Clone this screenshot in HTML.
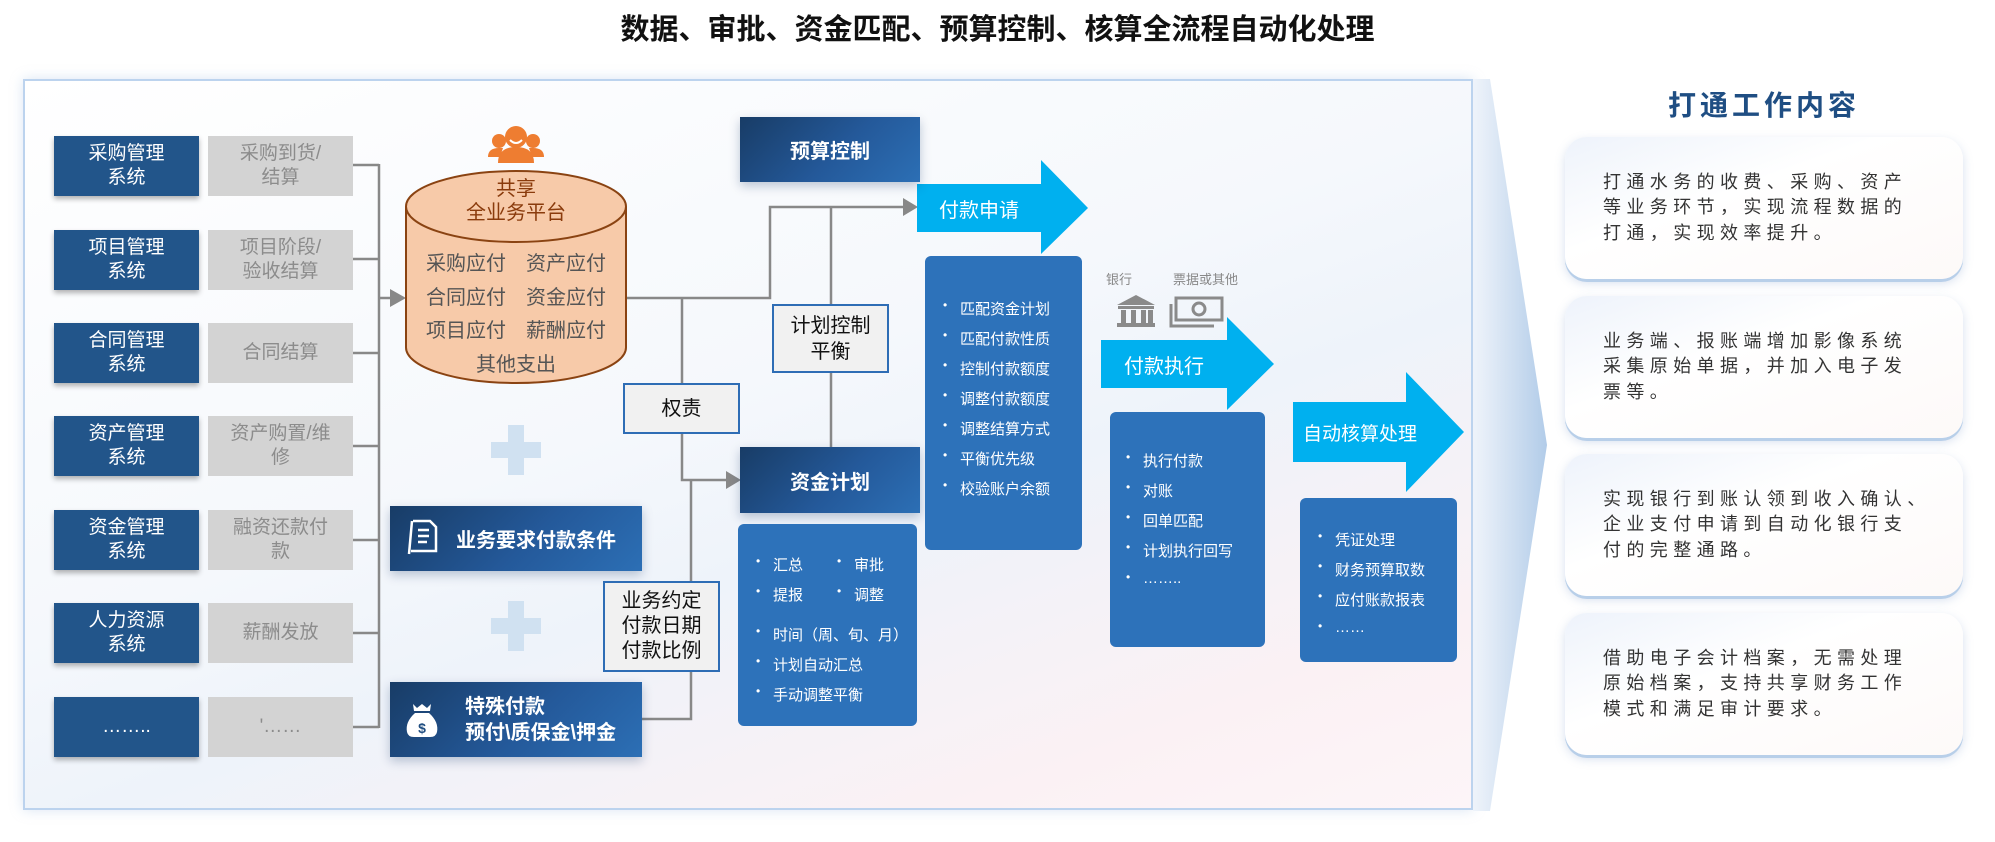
<!DOCTYPE html>
<html><head><meta charset="utf-8">
<style>
*{margin:0;padding:0;box-sizing:border-box}
body{width:1995px;height:842px;background:#fff;position:relative;overflow:hidden;font-family:"Liberation Sans","Noto Sans CJK SC",sans-serif}
.a{position:absolute}
.title{left:0;width:1995px;top:6px;text-align:center;font-size:29px;font-weight:bold;color:#111}
.frame{left:23px;top:79px;width:1450px;height:731px;border:2px solid #bcd3ee;background:linear-gradient(160deg,#ffffff 0%,#f5f8fc 45%,#eef3fa 60%,#fbf1f4 85%,#fdf5f8 100%);box-shadow:0 0 12px rgba(150,180,220,.35)}
.sys{left:54px;width:145px;height:60px;background:#22558a;color:#fff;font-size:19px;line-height:24px;display:flex;align-items:center;justify-content:center;text-align:center;box-shadow:0 3px 5px rgba(0,0,0,.3)}
.gr{left:208px;width:145px;height:60px;background:#d3d3d3;color:#8c8c8c;font-size:19px;line-height:24px;display:flex;align-items:center;justify-content:center;text-align:center}
.dk{background:linear-gradient(135deg,#183c66 0%,#24599a 55%,#2c6fb5 100%);color:#fff;font-weight:bold;display:flex;align-items:center;justify-content:center;box-shadow:0 4px 10px rgba(0,40,90,.25)}
.bx{background:#f1f1f1;border:2px solid #2e6db5;color:#111;font-size:20px;line-height:24px;display:flex;align-items:center;justify-content:center;text-align:center}
.cb{background:#2d72ba;border-radius:6px;color:#fff;font-size:15px}
.li{position:absolute;white-space:nowrap}
.li:before{content:"•";position:absolute;left:-17px;font-size:12px}
.card{left:1565px;width:398px;height:142px;border-radius:22px;background:linear-gradient(160deg,#eef3fb 0%,#ffffff 40%,#fdf9f8 100%);box-shadow:0 3px 0 #b8cfe9,0 4px 10px rgba(120,150,200,.3);padding:0 0 0 38px;font-size:18px;line-height:25.5px;letter-spacing:5.4px;color:#333;display:flex;align-items:center}
.card div{white-space:nowrap}
.plus{width:50px;height:50px}
.plus:before{content:"";position:absolute;left:17px;top:0;width:16px;height:50px;background:#d0e1f1}
.plus:after{content:"";position:absolute;left:0;top:17px;width:50px;height:16px;background:#d0e1f1}
</style></head><body>
<div class="a title">数据、审批、资金匹配、预算控制、核算全流程自动化处理</div>
<div class="a frame"></div>

<svg class="a" style="left:1470px;top:75px" width="90" height="740">
<defs><linearGradient id="cg" x1="0" x2="1"><stop offset="0" stop-color="#eef3fa"/><stop offset="1" stop-color="#a9c6e6"/></linearGradient></defs>
<polygon points="3,4 20,4 77,370 20,736 3,736" fill="url(#cg)" opacity=".9"/>
</svg>

<div class="a sys" style="top:136px">采购管理<br>系统</div>
<div class="a sys" style="top:230px">项目管理<br>系统</div>
<div class="a sys" style="top:323px">合同管理<br>系统</div>
<div class="a sys" style="top:416px">资产管理<br>系统</div>
<div class="a sys" style="top:510px">资金管理<br>系统</div>
<div class="a sys" style="top:603px">人力资源<br>系统</div>
<div class="a sys" style="top:697px">……..</div>
<div class="a gr" style="top:136px">采购到货/<br>结算</div>
<div class="a gr" style="top:230px">项目阶段/<br>验收结算</div>
<div class="a gr" style="top:323px">合同结算</div>
<div class="a gr" style="top:416px">资产购置/维<br>修</div>
<div class="a gr" style="top:510px">融资还款付<br>款</div>
<div class="a gr" style="top:603px">薪酬发放</div>
<div class="a gr" style="top:697px">'……</div>

<svg class="a" style="left:0;top:0" width="1995" height="842">
<g stroke="#888" stroke-width="2.5" fill="none">
<path d="M353 165H379M353 259H379M353 353H379M353 446H379M353 540H379M353 633H379M353 727H379M379 164V728"/>
<path d="M379 298H392"/>
<path d="M626 298H770V207H905"/>
<path d="M831 207V304M831 373V447"/>
<path d="M682 298V480H728"/>
<path d="M691 480V719H642"/>
</g>
<g fill="#888">
<polygon points="390,289 406,298 390,307"/>
<polygon points="903,198 918,207 903,216"/>
<polygon points="726,471 741,480 726,489"/>
</g>
<path d="M406 206.5V347.5A110 35.5 0 0 0 626 347.5V206.5" fill="#f7caa9" stroke="#8a4312" stroke-width="2"/>
<ellipse cx="516" cy="206.5" rx="110" ry="35.5" fill="#f7caa9" stroke="#8a4312" stroke-width="2"/>
<g fill="#ee7d31">
<circle cx="516" cy="137" r="11"/><path d="M498 163q0-16 18-16t18 16z"/>
<circle cx="499" cy="141" r="7"/><path d="M488 157q0-9 11-9l4 0-3 9z"/>
<circle cx="533" cy="141" r="7"/><path d="M544 157q0-9-11-9l-4 0 3 9z"/>
</g>
<path d="M510 140q6 6 12 0" stroke="#fff" stroke-width="2" fill="none"/>
<polygon points="917,184 1041,184 1041,160 1088,208 1041,254 1041,232 917,232" fill="#00b0ef"/>
<polygon points="1101,340 1227,340 1227,317 1274,364 1227,410 1227,388 1101,388" fill="#00b0ef"/>
<polygon points="1293,402 1406,402 1406,372 1464,432 1406,492 1406,462 1293,462" fill="#00b0ef"/>
<g fill="#8a8a8a">
<polygon points="1136,295 1117,305 1155,305"/>
<rect x="1118" y="306" width="36" height="3"/>
<rect x="1121" y="310" width="5" height="13"/><rect x="1131" y="310" width="5" height="13"/><rect x="1141" y="310" width="5" height="13"/><rect x="1148" y="310" width="5" height="13"/>
<rect x="1117" y="323" width="38" height="4"/>
</g>
<g fill="none" stroke="#8a8a8a" stroke-width="3">
<rect x="1176" y="298" width="46" height="22"/>
<path d="M1171 304V326H1214"/>
<circle cx="1199" cy="309" r="6"/>
</g>
</svg>

<div class="a" style="left:406px;top:177px;width:220px;text-align:center;color:#8a3b0c;font-size:20px;line-height:24px">共享<br>全业务平台</div>
<div class="a" style="left:411px;top:248px;width:110px;text-align:center;color:#555;font-size:20px;line-height:33.5px">采购应付<br>合同应付<br>项目应付</div>
<div class="a" style="left:511px;top:248px;width:110px;text-align:center;color:#555;font-size:20px;line-height:33.5px">资产应付<br>资金应付<br>薪酬应付</div>
<div class="a" style="left:406px;top:348px;width:220px;text-align:center;color:#555;font-size:20px">其他支出</div>

<div class="a plus" style="left:491px;top:425px"></div>
<div class="a plus" style="left:491px;top:601px"></div>

<div class="a dk" style="left:390px;top:506px;width:252px;height:65px;font-size:20px;padding-left:40px">业务要求付款条件</div>
<svg class="a" style="left:405px;top:518px" width="34" height="40"><g fill="none" stroke="#fff" stroke-width="2.5"><path d="M8 3H25L31 9V33H6"/><path d="M13 12H24M13 18H24M13 24H22"/><path d="M7 3L4 36"/></g></svg>
<div class="a dk" style="left:390px;top:682px;width:252px;height:75px;font-size:20px;line-height:26px;justify-content:flex-start;padding-left:75px">特殊付款<br>预付\质保金\押金</div>
<svg class="a" style="left:405px;top:702px" width="34" height="36"><g fill="#fff"><path d="M8 2L12 6 17 2 22 6 26 2 25 9H9z"/><path d="M10 11H24Q34 20 32 30Q31 35 25 35H9Q3 35 2 30Q0 20 10 11z"/></g><text x="17" y="31" font-size="14" font-weight="bold" fill="#1f4d80" text-anchor="middle" font-family="Liberation Sans">$</text></svg>

<div class="a bx" style="left:623px;top:383px;width:117px;height:51px">权责</div>
<div class="a bx" style="left:603px;top:581px;width:117px;height:91px;line-height:25px">业务约定<br>付款日期<br>付款比例</div>
<div class="a bx" style="left:772px;top:304px;width:117px;height:69px;line-height:26px">计划控制<br>平衡</div>

<div class="a dk" style="left:740px;top:117px;width:180px;height:65px;font-size:20px">预算控制</div>
<div class="a dk" style="left:740px;top:447px;width:180px;height:66px;font-size:20px">资金计划</div>

<div class="a" style="left:917px;top:194px;width:124px;text-align:center;color:#fff;font-size:20px;white-space:nowrap">付款申请</div>
<div class="a" style="left:1101px;top:350px;width:126px;text-align:center;color:#fff;font-size:20px;white-space:nowrap">付款执行</div>
<div class="a" style="left:1303px;top:419px;color:#fff;font-size:19px;white-space:nowrap">自动核算处理</div>
<div class="a" style="left:1106px;top:269px;color:#888;font-size:13px">银行</div>
<div class="a" style="left:1173px;top:269px;color:#888;font-size:13px">票据或其他</div>

<div class="a cb" style="left:738px;top:524px;width:179px;height:202px">
<div class="li" style="left:35px;top:30px">汇总</div><div class="li" style="left:116px;top:30px">审批</div>
<div class="li" style="left:35px;top:60px">提报</div><div class="li" style="left:116px;top:60px">调整</div>
<div class="li" style="left:35px;top:100px">时间（周、旬、月）</div>
<div class="li" style="left:35px;top:130px">计划自动汇总</div>
<div class="li" style="left:35px;top:160px">手动调整平衡</div>
</div>
<div class="a cb" style="left:925px;top:256px;width:157px;height:294px">
<div class="li" style="left:35px;top:42px">匹配资金计划</div>
<div class="li" style="left:35px;top:72px">匹配付款性质</div>
<div class="li" style="left:35px;top:102px">控制付款额度</div>
<div class="li" style="left:35px;top:132px">调整付款额度</div>
<div class="li" style="left:35px;top:162px">调整结算方式</div>
<div class="li" style="left:35px;top:192px">平衡优先级</div>
<div class="li" style="left:35px;top:222px">校验账户余额</div>
</div>
<div class="a cb" style="left:1110px;top:412px;width:155px;height:235px">
<div class="li" style="left:33px;top:38px">执行付款</div>
<div class="li" style="left:33px;top:68px">对账</div>
<div class="li" style="left:33px;top:98px">回单匹配</div>
<div class="li" style="left:33px;top:128px">计划执行回写</div>
<div class="li" style="left:33px;top:158px">……..</div>
</div>
<div class="a cb" style="left:1300px;top:498px;width:157px;height:164px">
<div class="li" style="left:35px;top:31px">凭证处理</div>
<div class="li" style="left:35px;top:61px">财务预算取数</div>
<div class="li" style="left:35px;top:91px">应付账款报表</div>
<div class="li" style="left:35px;top:121px">……</div>
</div>

<div class="a" style="left:1565px;top:84px;width:398px;text-align:center;color:#1f4e83;font-size:28px;font-weight:bold;letter-spacing:4px">打通工作内容</div>
<div class="a card" style="top:137px"><div>打通水务的收费、采购、资产<br>等业务环节，实现流程数据的<br>打通，实现效率提升。</div></div>
<div class="a card" style="top:296px"><div>业务端、报账端增加影像系统<br>采集原始单据，并加入电子发<br>票等。</div></div>
<div class="a card" style="top:454px"><div>实现银行到账认领到收入确认、<br>企业支付申请到自动化银行支<br>付的完整通路。</div></div>
<div class="a card" style="top:613px"><div>借助电子会计档案，无需处理<br>原始档案，支持共享财务工作<br>模式和满足审计要求。</div></div>
</body></html>
